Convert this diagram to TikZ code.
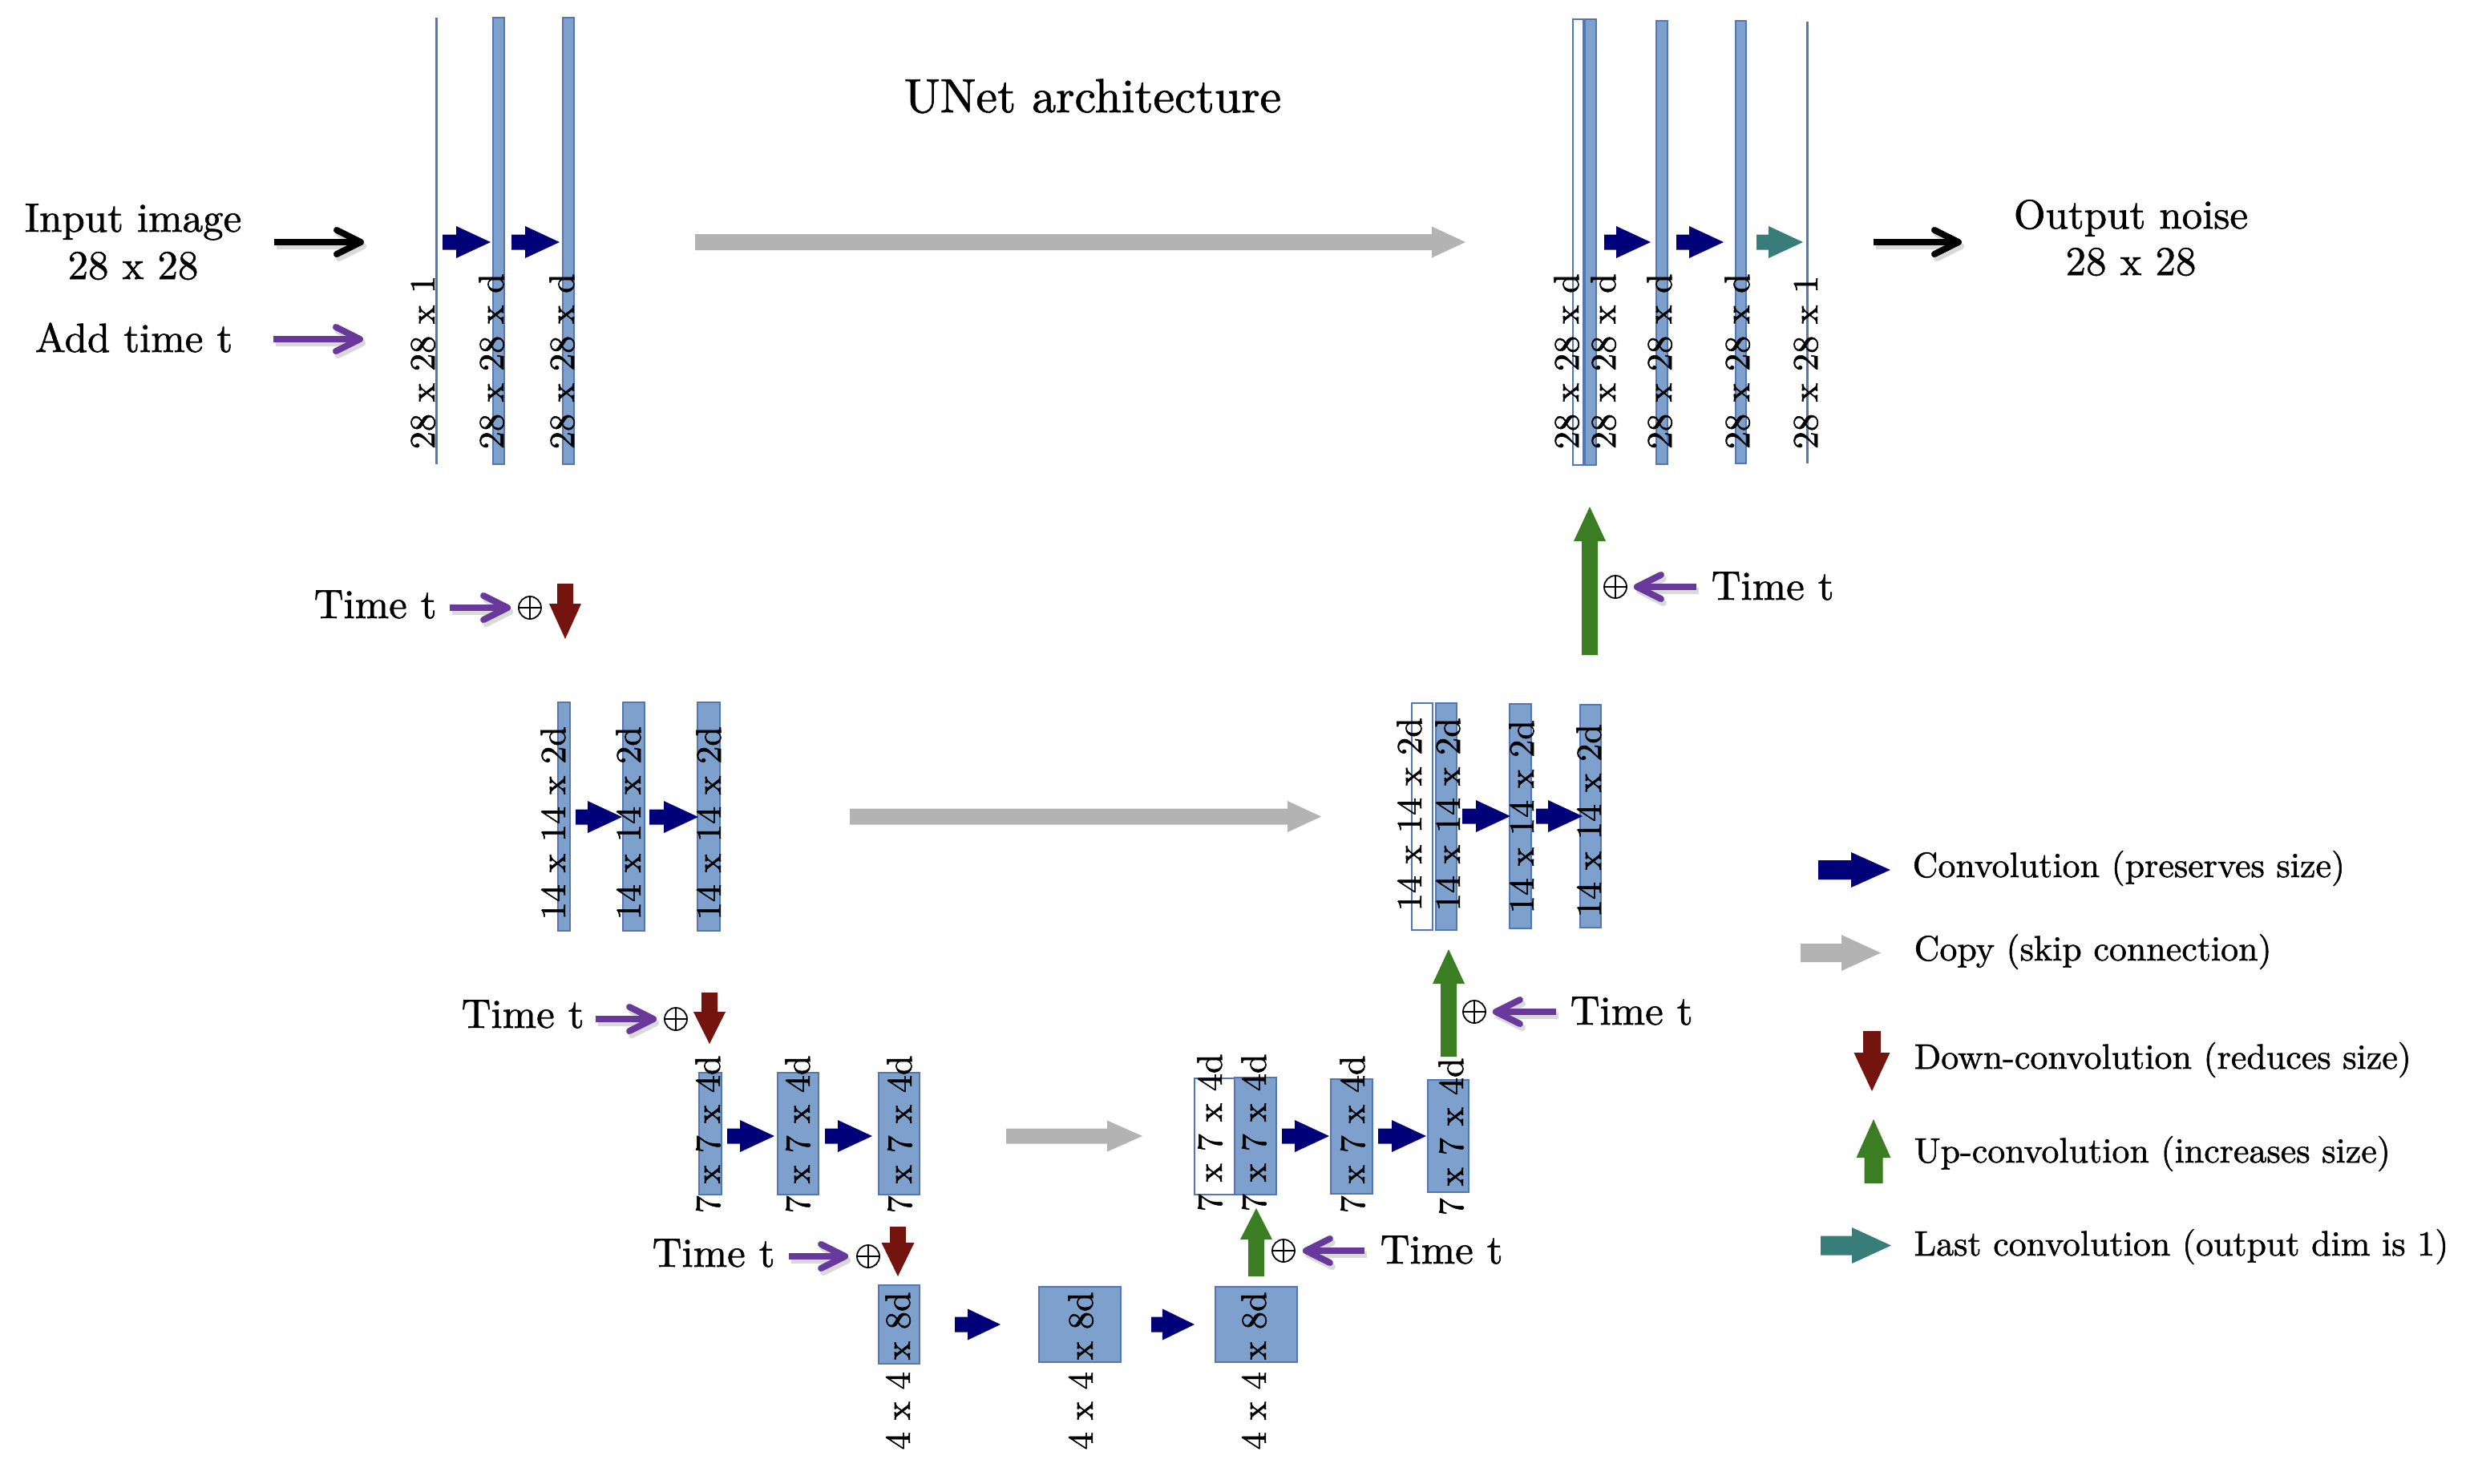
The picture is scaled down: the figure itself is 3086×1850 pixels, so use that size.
\documentclass[tikz,border=0pt]{standalone}
\usepackage{fontspec}
\setmainfont{lmroman10-regular.otf}[FakeBold=1.2]
\usepackage{tikz}
\usetikzlibrary{arrows.meta}
\definecolor{barfill}{RGB}{126,160,204}
\definecolor{barline}{RGB}{84,118,178}
\definecolor{cnavy}{RGB}{0,0,120}
\definecolor{cred}{RGB}{115,20,15}
\definecolor{cgreen}{RGB}{58,125,35}
\definecolor{cpurple}{RGB}{105,56,155}
\definecolor{cteal}{RGB}{56,125,122}
\definecolor{cgray}{RGB}{179,179,179}

\newcommand\fmain{\fontsize{14.5}{17}\selectfont}
\newcommand\flab{\fontsize{12.6}{15}\selectfont}
\newcommand\fleg{\fontsize{12.5}{15}\selectfont}
\newcommand\ftitle{\fontsize{17}{20}\selectfont}

% bar: style, x-left, y-top, width, height, name
\newcommand\Blk[6]{\node[#1, minimum width=#4*0.01cm, minimum height=#5*0.01cm, anchor=north west] (#6) at (#2,#3) {};}
% rotated size label: baseline x, start y, text, name
\newcommand\Lab[4]{\node[lab] (#4) at (#1,#2) {#3};}
% horizontal block arrow: style, y, xtail, xbase, xtip, halfshaft, halfhead
\newcommand\HArr[7]{\fill[#1] (#3,#2-#6) -- (#4,#2-#6) -- (#4,#2-#7) -- (#5,#2) -- (#4,#2+#7) -- (#4,#2+#6) -- (#3,#2+#6) -- cycle;}
% vertical block arrow: style, x, ytail, ybase, ytip, halfshaft, halfhead
\newcommand\VArr[7]{\fill[#1] (#2-#6,#3) -- (#2-#6,#4) -- (#2-#7,#4) -- (#2,#5) -- (#2+#7,#4) -- (#2+#6,#4) -- (#2+#6,#3) -- cycle;}
% line arrow with shadow: colour, extra options, from, to
\newcommand\LnArr[4]{%
  \draw[lnarr, #2, black!15, transform canvas={shift={(0.03cm,-0.05cm)}}] #3 -- #4;
  \draw[lnarr, #2, #1] #3 -- #4;}

\tikzset{
  bluebar/.style={fill=barfill, draw=barline, line width=0.5pt, inner sep=0pt, outer sep=0pt},
  whitebar/.style={fill=white, draw=barline, line width=0.5pt, inner sep=0pt, outer sep=0pt},
  thinbar/.style={fill=barline, draw=none, inner sep=0pt, outer sep=0pt},
  lab/.style={inner sep=0pt, font=\flab, rotate=90, anchor=base west},
  txt/.style={inner sep=0pt, font=\fmain},
  legtxt/.style={inner sep=0pt, font=\fleg, anchor=base west},
  ttl/.style={inner sep=0pt, font=\ftitle},
  opl/.style={circle, draw, line width=0.5pt, minimum size=0.28cm, inner sep=0pt,
    path picture={\draw[line width=0.5pt] (path picture bounding box.north) -- (path picture bounding box.south)
      (path picture bounding box.west) -- (path picture bounding box.east);}},
  lnarr/.style={line width=0.08cm, -{Straight Barb[length=0.3cm, width=0.3cm, round]}}
}

\begin{document}
\begin{tikzpicture}[x=0.01cm, y=-0.01cm]
\useasboundingbox (0,0) rectangle (3086,1850);

% ---------------- bars ----------------
\Blk{thinbar}{543}{22}{3}{557}{L1a}
\Blk{bluebar}{615}{22}{14}{557}{L1b}
\Blk{bluebar}{702}{22}{14}{557}{L1c}
\Blk{whitebar}{1962}{24}{13}{556}{R1w}
\Blk{bluebar}{1977}{24}{14}{556}{R1b}
\Blk{bluebar}{2066}{26}{14}{553}{R1c}
\Blk{bluebar}{2165}{26}{13}{552}{R1d}
\Blk{thinbar}{2253}{27}{3}{551}{R1e}

\Blk{bluebar}{696}{876}{15}{285}{L2a}
\Blk{bluebar}{777}{876}{27}{285}{L2b}
\Blk{bluebar}{870}{876}{28}{285}{L2c}
\Blk{whitebar}{1761}{877}{26}{283}{R2w}
\Blk{bluebar}{1791}{877}{26}{283}{R2b}
\Blk{bluebar}{1883}{878}{27}{280}{R2c}
\Blk{bluebar}{1971}{879}{26}{278}{R2d}

\Blk{bluebar}{872}{1338}{28}{152}{L3a}
\Blk{bluebar}{970}{1338}{51}{152}{L3b}
\Blk{bluebar}{1096}{1338}{51}{152}{L3c}
\Blk{whitebar}{1490}{1345}{50}{145}{R3w}
\Blk{bluebar}{1540}{1344}{52}{146}{R3b}
\Blk{bluebar}{1660}{1346}{52}{143}{R3c}
\Blk{bluebar}{1781}{1347}{51}{140}{R3d}

\Blk{bluebar}{1096}{1603}{51}{98}{B1}
\Blk{bluebar}{1296}{1605}{102}{94}{B2}
\Blk{bluebar}{1516}{1605}{102}{94}{B3}

% ---------------- labels ----------------
\Lab{542}{561}{28 x 28 x 1}{tL1a}
\Lab{628}{561}{28 x 28 x d}{tL1b}
\Lab{716}{561}{28 x 28 x d}{tL1c}
\Lab{1969}{561}{28 x 28 x d}{tR1w}
\Lab{2015}{561}{28 x 28 x d}{tR1b}
\Lab{2085}{561}{28 x 28 x d}{tR1c}
\Lab{2182}{561}{28 x 28 x d}{tR1d}
\Lab{2267}{561}{28 x 28 x 1}{tR1e}

\Lab{705}{1148}{14 x 14 x 2d}{tL2a}
\Lab{799}{1148}{14 x 14 x 2d}{tL2b}
\Lab{899}{1148}{14 x 14 x 2d}{tL2c}
\Lab{1773}{1137}{14 x 14 x 2d}{tR2w}
\Lab{1821}{1137}{14 x 14 x 2d}{tR2b}
\Lab{1913}{1140}{14 x 14 x 2d}{tR2c}
\Lab{1997}{1145}{14 x 14 x 2d}{tR2d}

\Lab{898}{1514}{7 x 7 x 4d}{tL3a}
\Lab{1010}{1514}{7 x 7 x 4d}{tL3b}
\Lab{1137}{1514}{7 x 7 x 4d}{tL3c}
\Lab{1524}{1512}{7 x 7 x 4d}{tR3w}
\Lab{1579}{1512}{7 x 7 x 4d}{tR3b}
\Lab{1702}{1514}{7 x 7 x 4d}{tR3c}
\Lab{1825}{1517}{7 x 7 x 4d}{tR3d}

\Lab{1135}{1809}{4 x 4 x 8d}{tB1}
\Lab{1363}{1809}{4 x 4 x 8d}{tB2}
\Lab{1579}{1809}{4 x 4 x 8d}{tB3}

% ---------------- convolution arrows ----------------
\HArr{cnavy}{302}{552}{569}{612}{9.5}{20}
\HArr{cnavy}{302}{638}{655}{698}{9.5}{20}
\HArr{cnavy}{302}{2001}{2016}{2059}{9.5}{20}
\HArr{cnavy}{302}{2091}{2107}{2150}{9.5}{20}
\HArr{cteal}{302}{2191}{2206}{2249}{9.5}{20}
\HArr{cnavy}{1019}{718}{733}{776}{9.5}{20}
\HArr{cnavy}{1019}{810}{828}{871}{9.5}{20}
\HArr{cnavy}{1018}{1824}{1841}{1884}{9.5}{20}
\HArr{cnavy}{1018}{1916}{1931}{1974}{9.5}{20}
\HArr{cnavy}{1417}{907}{923}{966}{9.5}{20}
\HArr{cnavy}{1417}{1029}{1045}{1088}{9.5}{20}
\HArr{cnavy}{1417}{1599}{1615}{1658}{9.5}{20}
\HArr{cnavy}{1417}{1719}{1736}{1779}{9.5}{20}
\HArr{cnavy}{1652}{1191}{1207}{1248}{9.5}{19.5}
\HArr{cnavy}{1652}{1436}{1450}{1490}{9.5}{19.5}

% ---------------- copy (skip) arrows ----------------
\HArr{cgray}{302}{867}{1786}{1828}{10}{19.5}
\HArr{cgray}{1018.5}{1060}{1606}{1648}{10}{19.5}
\HArr{cgray}{1417}{1255}{1381}{1425}{9.5}{19.5}

% ---------------- down / up convolutions ----------------
\VArr{cred}{705}{728}{753}{797}{10}{20}
\VArr{cred}{885}{1238}{1262}{1302}{10}{20}
\VArr{cred}{1120}{1530}{1550}{1592}{10}{20.5}
\VArr{cgreen}{1983}{817}{675}{632}{10}{20}
\VArr{cgreen}{1807}{1318}{1227}{1184}{10}{20}
\VArr{cgreen}{1567}{1592}{1546}{1507}{10}{20}

% ---------------- time embedding ----------------
\node[opl] (op1) at (661,758) {};
\node[opl] (op2) at (843,1271) {};
\node[opl] (op3) at (1083,1567) {};
\node[opl] (op4) at (2015,732) {};
\node[opl] (op5) at (1839,1262) {};
\node[opl] (op6) at (1601,1560) {};

\node[txt, anchor=base west] (tt1) at (391,771) {Time t};
\node[txt, anchor=base west] (tt2) at (575,1282) {Time t};
\node[txt, anchor=base west] (tt3) at (813,1580) {Time t};
\node[txt, anchor=base west] (tt4) at (2134,748) {Time t};
\node[txt, anchor=base west] (tt5) at (1958,1278) {Time t};
\node[txt, anchor=base west] (tt6) at (1721,1576) {Time t};

\coordinate (pt1) at (561,758);
\coordinate (pt2) at (743,1271);
\coordinate (pt3) at (984,1567);
\coordinate (pt4) at (2116,732);
\coordinate (pt5) at (1941,1262);
\coordinate (pt6) at (1702,1560);
\LnArr{cpurple}{shorten >=0.09cm}{(pt1)}{(op1.west)}
\LnArr{cpurple}{shorten >=0.09cm}{(pt2)}{(op2.west)}
\LnArr{cpurple}{shorten >=0.1cm}{(pt3)}{(op3.west)}
\LnArr{cpurple}{shorten >=0.08cm}{(pt4)}{(op4.east)}
\LnArr{cpurple}{shorten >=0.08cm}{(pt5)}{(op5.east)}
\LnArr{cpurple}{shorten >=0.09cm}{(pt6)}{(op6.east)}

% ---------------- input / output ----------------
\node[txt, anchor=base] (inp1) at (166,289) {Input image};
\node[txt, anchor=base] (inp2) at (166,348) {28 x 28};
\node[txt, anchor=base] (addt) at (167,439) {Add time t};
\node[txt, anchor=base] (out1) at (2658,285) {Output noise};
\node[txt, anchor=base] (out2) at (2658,343) {28 x 28};
\coordinate (bk1s) at (342,302);
\coordinate (bk1e) at (454,302);
\coordinate (bk2s) at (2337,302);
\coordinate (bk2e) at (2447,302);
\coordinate (pa0s) at (341,423);
\coordinate (pa0e) at (453,423);
\LnArr{black}{}{(bk1s)}{(bk1e)}
\LnArr{black}{}{(bk2s)}{(bk2e)}
\LnArr{cpurple}{}{(pa0s)}{(pa0e)}

% ---------------- title ----------------
\node[ttl, anchor=base] (title) at (1363,140) {UNet architecture};

% ---------------- legend ----------------
\HArr{cnavy}{1085}{2268}{2309}{2358}{12}{22}
\HArr{cgray}{1188.5}{2246}{2297}{2346}{11.5}{22.5}
\VArr{cred}{2335}{1286}{1313}{1361}{11}{22.5}
\VArr{cgreen}{2337}{1476}{1444}{1396}{11.5}{21.5}
\HArr{cteal}{1553.5}{2271}{2310}{2359}{12}{22.5}
\node[legtxt] (lg1) at (2385,1094) {Convolution (preserves size)};
\node[legtxt] (lg2) at (2387,1198) {Copy (skip connection)};
\node[legtxt] (lg3) at (2387,1333) {Down-convolution (reduces size)};
\node[legtxt] (lg4) at (2387,1450) {Up-convolution (increases size)};
\node[legtxt] (lg5) at (2387,1566) {Last convolution (output dim is 1)};
\end{tikzpicture}
\end{document}
